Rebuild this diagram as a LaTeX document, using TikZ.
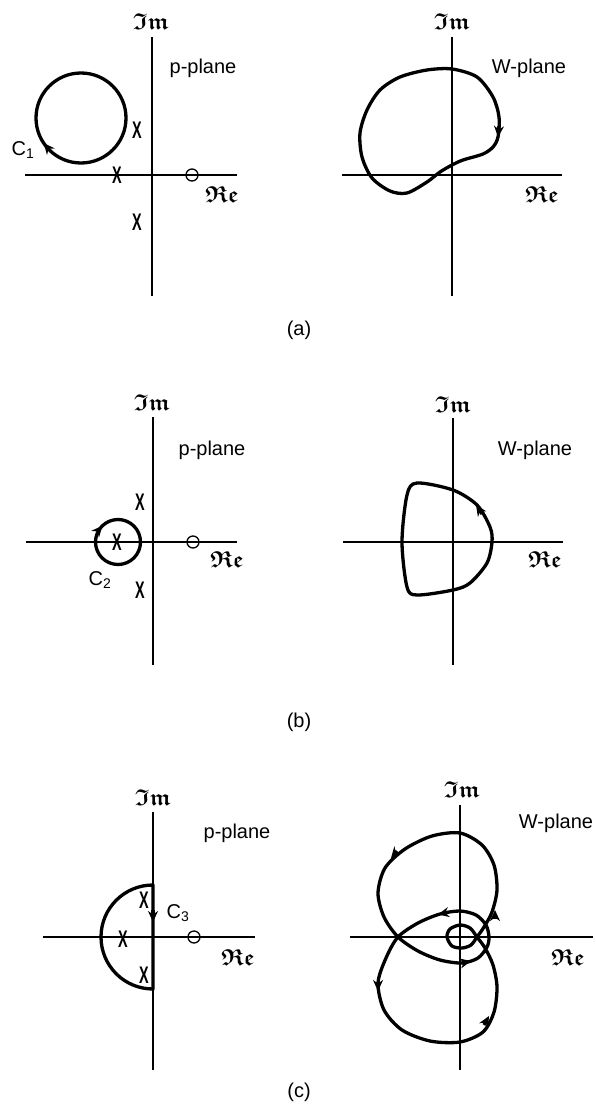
\documentclass[tikz,border=0pt]{standalone}
\usepackage{fontspec}
\setmainfont{Liberation Sans}
\usepackage{amssymb}
\usepackage{bm}
\usetikzlibrary{arrows.meta}
\begin{document}
\begin{tikzpicture}[x=1pt,y=-1pt,
  axis/.style={line width=1.3pt},
  curve/.style={line width=3.3pt, line join=round},
  tip/.style={line width=3.3pt, -{Stealth[length=11pt,width=10pt]}},
  lbl/.style={font=\fontsize{20}{22}\selectfont, inner sep=0},
  sym/.style={font=\fontsize{23}{25}\selectfont, inner sep=0},
  pole/.style={font=\fontsize{24}{24}\selectfont\bfseries, inner sep=0},
  zero/.style={circle, draw, line width=1.3pt, minimum size=12pt, inner sep=0}
]
\useasboundingbox (0,0) rectangle (595,1110);
% ---------- (a) left
\draw[axis] (152,37) -- (152,296);
\draw[axis] (25,175) -- (237,175);
\node[sym] (aim) at (151,22) {$\bm{\mathfrak{Im}}$};
\node[sym] (are) at (222,195) {$\bm{\mathfrak{Re}}$};
\node[lbl] (apl) at (203,68) {p-plane};
\node[lbl] (ac) at (23,150) {C\textsubscript{1}};
\node[pole] (ax1) at (137,130) {\scalebox{0.6}[1]{X}};
\node[pole] (ax2) at (117,175) {\scalebox{0.6}[1]{X}};
\node[pole] (ax3) at (137,222) {\scalebox{0.6}[1]{X}};
\node[zero] (az) at (192,175) {};
\draw[curve] (126,118) arc[start angle=0,end angle=360,radius=45];
\draw[tip] (46.5,146.5) -- (43.7,143.2);
% ---------- (a) right
\draw[axis] (452,37) -- (452,296);
\draw[axis] (342,175) -- (562,175);
\node[sym] (bim) at (452,22) {$\bm{\mathfrak{Im}}$};
\node[sym] (bre) at (542,195) {$\bm{\mathfrak{Re}}$};
\node[lbl] (bpl) at (529,68) {W-plane};
\draw[curve] plot[smooth cycle] coordinates {(452,69) (477,77) (493,97) (499,117) (498,137) (493,147) (483,154) (463,160) (452,165) (440,172) (427,182) (407,193) (390,191) (372,178) (362,157) (360,133) (367,110) (380,90) (400,77) (427,70)};
\draw[tip] (499,126) -- (498,137);
\node[lbl] (la) at (299,330) {(a)};
% ---------- (b) left
\draw[axis] (153,417) -- (153,665);
\draw[axis] (26,542) -- (237,542);
\node[sym] (cim) at (152,403) {$\bm{\mathfrak{Im}}$};
\node[sym] (cre) at (227,560) {$\bm{\mathfrak{Re}}$};
\node[lbl] (cpl) at (212,450) {p-plane};
\node[lbl] (cc) at (100,580) {C\textsubscript{2}};
\node[pole] (cx1) at (140,502) {\scalebox{0.6}[1]{X}};
\node[pole] (cx2) at (117,542) {\scalebox{0.6}[1]{X}};
\node[pole] (cx3) at (140,590) {\scalebox{0.6}[1]{X}};
\node[zero] (cz) at (193,542) {};
\draw[curve] (140.5,542) arc[start angle=0,end angle=360,radius=22.5];
\draw[tip] (99.8,528.8) -- (102.4,525.8);
% ---------- (b) right
\draw[axis] (453,418) -- (453,665);
\draw[axis] (343,542) -- (563,542);
\node[sym] (dim) at (453,405) {$\bm{\mathfrak{Im}}$};
\node[sym] (dre) at (545,560) {$\bm{\mathfrak{Re}}$};
\node[lbl] (dpl) at (535,450) {W-plane};
\draw[curve] plot[smooth cycle] coordinates {(417,483) (453,490) (477,505) (490,527) (492,542) (487,563) (470,583) (453,590) (417,595) (407,587) (402,542) (407,495)};
\draw[tip] (482,514) -- (476,505);
\node[lbl] (lb) at (299,722) {(b)};
% ---------- (c) left
\draw[axis] (153,812) -- (153,1070);
\draw[axis] (43,937) -- (255,937);
\node[sym] (eim) at (153,798) {$\bm{\mathfrak{Im}}$};
\node[sym] (ere) at (238,958) {$\bm{\mathfrak{Re}}$};
\node[lbl] (epl) at (237,833) {p-plane};
\node[lbl] (ec) at (178,913) {C\textsubscript{3}};
\node[pole] (ex1) at (144,900) {\scalebox{0.6}[1]{X}};
\node[pole] (ex2) at (123,939) {\scalebox{0.6}[1]{X}};
\node[pole] (ex3) at (144,975) {\scalebox{0.6}[1]{X}};
\node[zero] (ez) at (194,937) {};
\draw[curve] (153,885) -- (153,989) arc[start angle=90,end angle=270,radius=52] -- cycle;
\draw[tip] (153,910) -- (153,922);
% ---------- (c) right
\draw[axis] (460,805) -- (460,1070);
\draw[axis] (350,937) -- (593,937);
\node[sym] (fim) at (462,790) {$\bm{\mathfrak{Im}}$};
\node[sym] (fre) at (568,958) {$\bm{\mathfrak{Re}}$};
\node[lbl] (fpl) at (556,823) {W-plane};
\draw[curve] plot[smooth cycle] coordinates {
 (477,937) (484,927) (492,912) (497,890) (494,865) (482,845) (460,833) (432,836) (405,849) (385,868) (378,893) (384,917) (398,937)
 (418,951) (440,960) (462,963) (478,958) (487,947) (489,937) (486,925)
 (476,915) (460,911) (440,914) (418,923) (398,937)
 (386,958) (378,983) (384,1010) (402,1030) (430,1041) (460,1042) (483,1032) (494,1012) (497,987) (493,965) (485,948)
 (477,937) (470,928) (460,925) (450,929) (447,937) (452,946) (462,948) (471,945)};
\draw[tip] (495,919) -- (495,910);
\draw[tip] (397,851) -- (391,858);
\draw[tip] (447,912.5) -- (438,914.5);
\draw[tip] (462,963) -- (471,961);
\draw[tip] (378,982) -- (378,991);
\draw[tip] (484,1025) -- (489,1016);
\node[lbl] (lc) at (299,1092) {(c)};
\end{tikzpicture}
\end{document}
